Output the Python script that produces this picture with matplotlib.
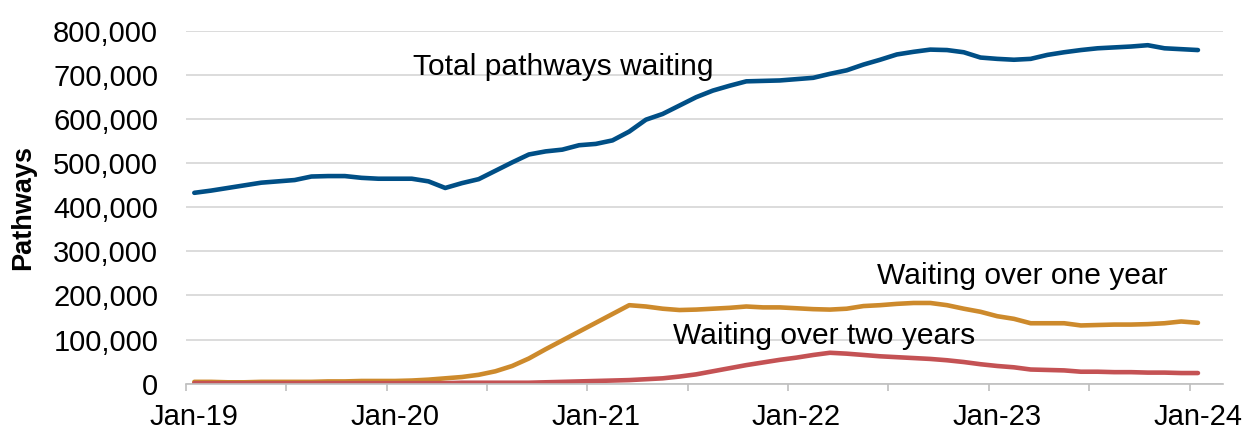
import matplotlib.pyplot as plt
import numpy as np
from matplotlib.ticker import FuncFormatter, MultipleLocator

plt.rcParams['font.family'] = ['Liberation Sans', 'DejaVu Sans']

# monthly, Jan-19 .. Jan-24
months = ["Jan-19", "Jan-20", "Jan-21", "Jan-22", "Jan-23", "Jan-24"]

total_waiting = [433, 438, 444, 450, 456, 459, 462, 470, 471, 471,
                 467, 465, 465, 465, 459, 444, 455, 464, 483, 502,
                 520, 527, 531, 541, 544, 552, 572, 599, 612, 631,
                 650, 665, 676, 686, 687, 688, 691, 694, 703, 711,
                 724, 735, 747, 753, 758, 757, 752, 740, 737, 735,
                 737, 746, 752, 757, 761, 763, 765, 768, 761, 759, 757]

over_one_year = [4, 4, 3, 3, 4, 4, 4, 4, 5, 5,
                 6, 6, 6, 7, 9, 12, 15, 20, 28, 40,
                 57, 78, 98, 118, 138, 158, 178, 175, 170, 167,
                 168, 170, 172, 175, 173, 173, 171, 169, 168, 170,
                 176, 178, 181, 183, 183, 178, 170, 163, 153, 147,
                 137, 137, 137, 132, 133, 134, 134, 135, 137, 141, 138]

over_two_years = [1, 1, 1, 1, 1, 1, 1, 1, 1, 1,
                  1, 1, 1, 1, 1, 1, 2, 2, 2, 2,
                  2, 3, 4, 5, 6, 7, 8, 10, 12, 16,
                  21, 28, 35, 42, 48, 54, 59, 65, 70, 68,
                  65, 62, 60, 58, 56, 53, 49, 44, 40, 37,
                  32, 31, 30, 27, 27, 26, 26, 25, 25, 24, 24]

x = np.arange(len(total_waiting))
scale = 1000

fig = plt.figure(figsize=(12.48, 4.32), dpi=100)
ax = fig.add_axes([0.149, 0.112, 0.831, 0.816])

ax.plot(x, np.array(total_waiting) * scale, color="#004f86", lw=3.3, solid_capstyle="round")
ax.plot(x, np.array(over_one_year) * scale, color="#cd8a2c", lw=3.3, solid_capstyle="round")
ax.plot(x, np.array(over_two_years) * scale, color="#c45254", lw=3.3, solid_capstyle="round")

ax.set_xlim(-0.5, 61.5)
ax.set_ylim(0, 800000)
ax.yaxis.set_major_locator(MultipleLocator(100000))
ax.yaxis.set_major_formatter(FuncFormatter(lambda v, p: f"{int(v):,}"))
ax.grid(axis="y", color="#d9d9d9", lw=1.3)
ax.set_axisbelow(True)

ax.set_xticks(np.arange(0, 61, 12))
ax.set_xticklabels(months)
ax.set_xticks(np.arange(-0.5, 61, 6), minor=True)
ax.tick_params(axis="x", which="major", length=0, pad=14, labelsize=21)
ax.tick_params(axis="x", which="minor", length=5, width=1.2, color="#bfbfbf")
ax.tick_params(axis="y", length=0, pad=20, labelsize=21)

for side in ["top", "right", "left"]:
    ax.spines[side].set_visible(False)
ax.spines["bottom"].set_color("#bfbfbf")
ax.spines["bottom"].set_linewidth(1.2)

ax.set_ylabel("Pathways", fontsize=19.5, fontweight="bold", labelpad=12)

ax.text(13.05, 719000, "Total pathways waiting", fontsize=21.6, va="center", ha="left")
ax.text(40.8, 245000, "Waiting over one year", fontsize=21.6, va="center", ha="left")
ax.text(28.6, 107000, "Waiting over two years", fontsize=21.6, va="center", ha="left")

fig.savefig("out.png", dpi=100)
